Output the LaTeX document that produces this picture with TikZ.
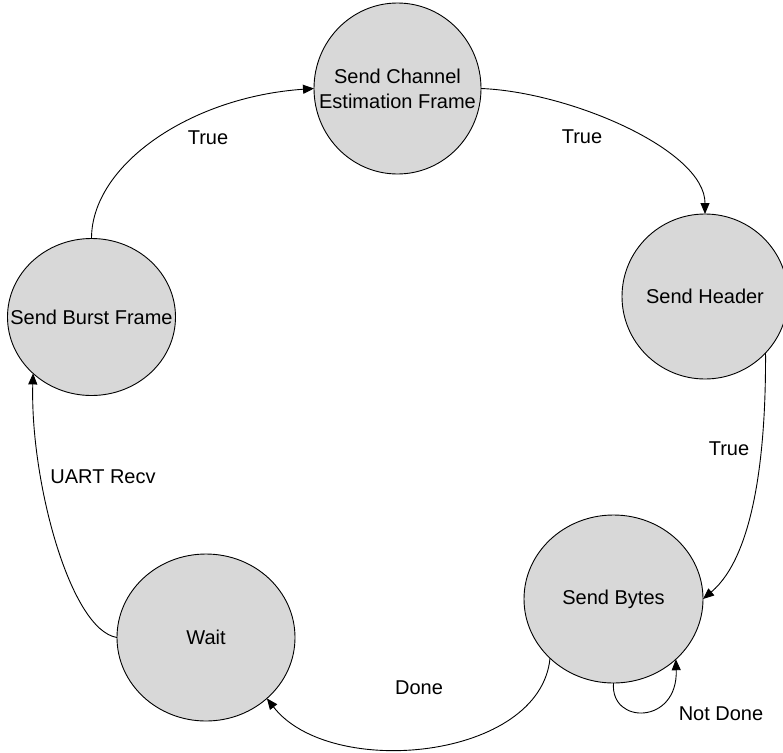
\documentclass[tikz,border=0pt]{standalone}
\usepackage{fontspec}
\setmainfont{Liberation Sans}
\usetikzlibrary{shapes.geometric,arrows.meta}
\definecolor{statefill}{RGB}{216,216,216}
\begin{document}
\begin{tikzpicture}[x=1pt,y=-1pt,
  state/.style={ellipse, draw=black, line width=0.9pt, fill=statefill,
    inner sep=0pt, outer sep=0pt},
  lbl/.style={font=\fontsize{20}{25}\selectfont, text=black, inner sep=0pt},
  every label/.style={lbl, align=center},
  trans/.style={draw=black, line width=0.9pt, -{Triangle[length=11pt,width=9pt]}}]
\useasboundingbox (0,0) rectangle (783,752);

% states
\node[state, minimum width=167pt, minimum height=171pt,
  label={center:Send Channel\\Estimation Frame}] (scef) at (397.5,88.5) {};
\node[state, minimum width=166pt, minimum height=165pt,
  label={center:Send Header}] (sh) at (705,296.5) {};
\node[state, minimum width=179pt, minimum height=168pt,
  label={center:Send Bytes}] (sb) at (613.5,599) {};
\node[state, minimum width=178pt, minimum height=167pt,
  label={center:Wait}] (wait) at (206,637.5) {};
\node[state, minimum width=168pt, minimum height=157pt,
  label={center:Send Burst Frame}] (sbf) at (91.5,317) {};

% transitions
\draw[trans] (sbf.north) .. controls (91.5,165) and (190,97) .. (scef.west);
\draw[trans] (scef.east) .. controls (570,92) and (705,150) .. (sh.north);
\draw[trans] (sh.-43) .. controls (766,450) and (755,555) .. (sb.east);
\draw[trans] (sb.-137) .. controls (540,760) and (330,780) .. (wait.-45);
\draw[trans] (sb.south) .. controls (610,725) and (678,725) .. (sb.-44);
\draw[trans] (wait.west) .. controls (70,630) and (30,480) .. (sbf.-136);

% transition labels
\node[lbl] (t1) at (208,138) {True};
\node[lbl] (t2) at (582,137) {True};
\node[lbl] (t3) at (729,449) {True};
\node[lbl] (t4) at (721,714) {Not Done};
\node[lbl] (t5) at (419,688) {Done};
\node[lbl] (t6) at (103,477) {UART Recv};
\end{tikzpicture}
\end{document}
